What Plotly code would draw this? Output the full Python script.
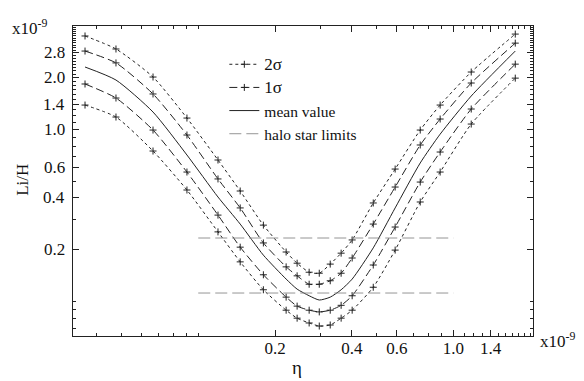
import plotly.graph_objects as go
import numpy as np

# eta values (units of 1e-9)
eta = [0.036, 0.0476, 0.0665, 0.0903, 0.1195, 0.146, 0.18, 0.221, 0.244, 0.272,
       0.298, 0.329, 0.363, 0.401, 0.485, 0.591, 0.741, 0.887, 1.174, 1.747]

# Li/H values (units of 1e-9)
upper_2sigma = [3.50, 2.94, 2.02, 1.166, 0.665, 0.439, 0.278, 0.194, 0.167, 0.148,
                0.146, 0.165, 0.191, 0.228, 0.374, 0.589, 0.993, 1.388, 2.16, 3.59]
upper_1sigma = [2.86, 2.44, 1.61, 0.929, 0.516, 0.350, 0.219, 0.159, 0.141, 0.126,
                0.126, 0.132, 0.146, 0.179, 0.282, 0.463, 0.813, 1.151, 1.864, 3.18]
mean_value = [2.31, 1.94, 1.264, 0.711, 0.405, 0.282, 0.186, 0.135, 0.118, 0.108,
              0.102, 0.106, 0.117, 0.135, 0.205, 0.350, 0.639, 0.94, 1.566, 2.86]
lower_1sigma = [1.84, 1.525, 0.993, 0.566, 0.318, 0.207, 0.143, 0.106, 0.094, 0.089,
                0.087, 0.089, 0.095, 0.108, 0.163, 0.271, 0.495, 0.740, 1.316, 2.40]
lower_2sigma = [1.388, 1.182, 0.750, 0.445, 0.254, 0.170, 0.117, 0.089, 0.080, 0.075,
                0.072, 0.073, 0.080, 0.089, 0.121, 0.199, 0.379, 0.566, 1.076, 1.99]

# halo star limits
halo_eta = [0.1, 1.0]
halo_upper = [0.234, 0.234]
halo_lower = [0.112, 0.112]

x_ticks = [0.2, 0.4, 0.6, 1.0, 1.4]
x_ticktext = ["0.2", "0.4", "0.6", "1.0", "1.4"]
y_ticks = [0.2, 0.4, 0.6, 1.0, 1.4, 2.0, 2.8]
y_ticktext = ["0.2", "0.4", "0.6", "1.0", "1.4", "2.0", "2.8"]

x_minor = [0.04, 0.05, 0.06, 0.07, 0.08, 0.09, 0.1, 0.3, 0.5, 0.7, 0.8, 0.9,
           1.1, 1.2, 1.3, 1.5, 1.6, 1.7, 1.8, 1.9, 2.0]
y_minor = [0.07, 0.08, 0.09, 0.1, 0.3, 0.5, 0.7, 0.8, 0.9, 1.1, 1.2, 1.3, 1.5,
           1.6, 1.7, 1.8, 1.9, 2.1, 2.2, 2.3, 2.4, 2.5, 2.6, 2.7, 2.9, 3.0, 3.1,
           3.2, 3.3, 3.4, 3.5, 3.6, 3.7, 3.8, 3.9]

FONT = "Liberation Serif"
INK = "#222"
TXT = "#111"

fig = go.Figure()

def curve(y, name, dash, show, marker=True, rank=1):
    fig.add_trace(go.Scatter(
        x=eta, y=y, name=name, showlegend=show, legendrank=rank,
        mode="lines+markers" if marker else "lines",
        line=dict(color=INK, width=1, dash=dash, shape="spline", smoothing=0.6),
        marker=dict(symbol="cross-thin", size=5, line=dict(color=INK, width=1)),
    ))

curve(upper_2sigma, "<span style='font-size:17px'>2σ</span>", "3px,3px", True, rank=1)
curve(lower_2sigma, "2σ", "3px,3px", False, rank=1)
curve(upper_1sigma, "<span style='font-size:17px'>1σ</span>", "8px,4px", True, rank=2)
curve(lower_1sigma, "1σ", "8px,4px", False, rank=2)
curve(mean_value, "mean value", "solid", True, marker=False, rank=3)

fig.add_trace(go.Scatter(x=halo_eta, y=halo_upper, mode="lines", name="halo star limits",
                         legendrank=4, line=dict(color="#888", width=0.9, dash="12px,5px")))
fig.add_trace(go.Scatter(x=halo_eta, y=halo_lower, mode="lines", showlegend=False,
                         line=dict(color="#888", width=0.9, dash="12px,5px")))

axis_common = dict(
    type="log", showgrid=False, zeroline=False, showline=True, linecolor=INK,
    linewidth=1, mirror="ticks", ticks="inside", ticklen=6, tickcolor=INK,
    tickfont=dict(family=FONT, size=17, color=TXT),
)

fig.update_xaxes(range=[np.log10(0.0323), np.log10(2.05)], tickvals=x_ticks,
                 ticktext=x_ticktext, ticklabelstandoff=-3,
                 minor=dict(tickvals=x_minor, ticks="inside", ticklen=3, tickcolor=INK),
                 **axis_common)
fig.update_yaxes(range=[np.log10(0.063), np.log10(4.0)], tickvals=y_ticks,
                 showticklabels=False,
                 minor=dict(tickvals=y_minor, ticks="inside", ticklen=3, tickcolor=INK),
                 **axis_common)

# y tick labels placed at the tick values through the y axis scale
for v, t in zip(y_ticks, y_ticktext):
    fig.add_annotation(text=t, xref="paper", yref="y", x=-0.012, y=np.log10(v),
                       xanchor="right", yanchor="middle", showarrow=False,
                       font=dict(family=FONT, size=17, color=TXT))

fig.add_annotation(text="x10<sup>-9</sup>", xref="paper", yref="paper",
                   x=-0.137, y=0.997, xanchor="left", yanchor="middle", showarrow=False,
                   font=dict(family=FONT, size=17, color=TXT))
fig.add_annotation(text="x10<sup>-9</sup>", xref="paper", yref="paper",
                   x=1.011, y=-0.013, xanchor="left", yanchor="middle", showarrow=False,
                   font=dict(family=FONT, size=17, color=TXT))
fig.add_annotation(text="Li/H", xref="paper", yref="paper", x=-0.11, y=0.505,
                   xanchor="center", yanchor="middle",
                   textangle=-90, showarrow=False,
                   font=dict(family=FONT, size=17, color=TXT))
fig.add_annotation(text="η", xref="paper", yref="paper", x=0.487, y=-0.103,
                   xanchor="center", yanchor="middle",
                   showarrow=False, font=dict(family=FONT, size=19, color=TXT))

# the page body adds an 8px offset, so the figure is 8px smaller on each trailing side
fig.update_layout(
    width=576, height=373,
    margin=dict(l=65, r=51, t=18, b=45),
    paper_bgcolor="white", plot_bgcolor="white",
    legend=dict(x=0.329, y=0.93, xanchor="left", yanchor="top", bgcolor="rgba(0,0,0,0)",
                font=dict(family=FONT, size=15.5, color=TXT), traceorder="normal",
                itemwidth=30, tracegroupgap=0),
)

fig.write_html("out.html")
